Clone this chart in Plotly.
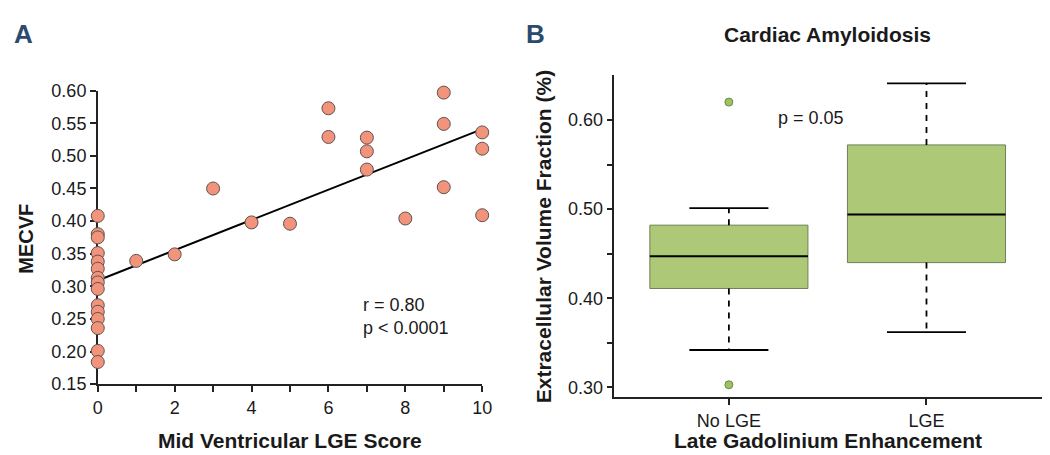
import plotly.graph_objects as go

# ---------------- Panel A data ----------------
lge_score = [0]*15 + [1, 2, 3, 4, 5, 6, 6, 7, 7, 7, 8, 9, 9, 9, 10, 10, 10]
mecvf = [0.408, 0.380, 0.375, 0.351, 0.338, 0.327, 0.313, 0.306, 0.296,
         0.271, 0.261, 0.250, 0.236, 0.201, 0.184,
         0.339, 0.349, 0.450, 0.398, 0.396, 0.573, 0.529,
         0.528, 0.507, 0.479, 0.404, 0.597, 0.549, 0.452,
         0.536, 0.511, 0.409]
fit_x = [0, 10]
fit_y = [0.309, 0.541]

# ---------------- Panel B data ----------------
groups = ["No LGE", "LGE"]
group_pos = [0, 1]
q1 = [0.411, 0.440]
median = [0.447, 0.494]
q3 = [0.482, 0.572]
lower_whisker = [0.342, 0.362]
upper_whisker = [0.501, 0.641]
outlier_group = [0, 0]
outlier_vals = [0.620, 0.303]

FONT = "Liberation Sans, Arial, Helvetica, sans-serif"
TXT = "#1a1a1a"

fig = go.Figure()

# Panel A
fig.add_trace(go.Scatter(x=fit_x, y=fit_y, mode="lines",
                         line=dict(color="black", width=2),
                         xaxis="x", yaxis="y", showlegend=False, hoverinfo="skip"))
fig.add_trace(go.Scatter(x=lge_score, y=mecvf, mode="markers",
                         marker=dict(size=13, color="#f2937c",
                                     line=dict(color="#5e5250", width=1)),
                         cliponaxis=False, xaxis="x", yaxis="y", showlegend=False))

# Panel B boxes (whiskers drawn separately as dashed lines)
fig.add_trace(go.Box(x=group_pos, q1=q1, median=median, q3=q3,
                     lowerfence=q1, upperfence=q3, width=0.8, whiskerwidth=0,
                     fillcolor="#adc977", line=dict(color="#6f7f5a", width=1),
                     boxpoints=False, xaxis="x2", yaxis="y2", showlegend=False))
for i, p in enumerate(group_pos):
    fig.add_trace(go.Scatter(x=[p - 0.4, p + 0.4], y=[median[i], median[i]], mode="lines",
                             line=dict(color="black", width=2),
                             xaxis="x2", yaxis="y2", showlegend=False, hoverinfo="skip"))
    fig.add_trace(go.Scatter(x=[p, p], y=[q3[i], upper_whisker[i]], mode="lines",
                             line=dict(color="black", width=1.8, dash="6px,6px"),
                             xaxis="x2", yaxis="y2", showlegend=False, hoverinfo="skip"))
    fig.add_trace(go.Scatter(x=[p, p], y=[q1[i], lower_whisker[i]], mode="lines",
                             line=dict(color="black", width=1.8, dash="6px,6px"),
                             xaxis="x2", yaxis="y2", showlegend=False, hoverinfo="skip"))
    for w in (upper_whisker[i], lower_whisker[i]):
        fig.add_trace(go.Scatter(x=[p - 0.2, p + 0.2], y=[w, w], mode="lines",
                                 line=dict(color="black", width=1.8),
                                 xaxis="x2", yaxis="y2", showlegend=False, hoverinfo="skip"))
fig.add_trace(go.Scatter(x=outlier_group, y=outlier_vals, mode="markers",
                         marker=dict(size=8, color="#9cc262",
                                     line=dict(color="#6d8a48", width=1)),
                         xaxis="x2", yaxis="y2", showlegend=False))

axis_common = dict(showline=True, linecolor="#222", linewidth=1.5, ticks="outside",
                   tickcolor="#222", tickwidth=1.5, ticklen=6, showgrid=False,
                   zeroline=False, tickfont=dict(family=FONT, size=18, color=TXT))

def ann(text, x, y, size, xanchor="center", yanchor="middle", angle=0, color=TXT, align="center"):
    return dict(text=text, x=x / 1050, y=1 - y / 455, xref="paper", yref="paper",
                xanchor=xanchor, yanchor=yanchor, textangle=angle, align=align, borderpad=0,
                showarrow=False, font=dict(family=FONT, size=size, color=color))

fig.update_layout(
    width=1050, height=455,
    margin=dict(l=0, r=0, t=0, b=0),
    paper_bgcolor="white", plot_bgcolor="white",
    xaxis=dict(domain=[86/1050, 476/1050], range=[0, 10], tickvals=[0, 2, 4, 6, 8, 10],
               minor=dict(dtick=1, ticks="outside", ticklen=6, tickcolor="#222", tickwidth=1.5),
               layer="below traces", anchor="y", **axis_common),
    yaxis=dict(domain=[1-383/455, 1-76/455], range=[0.15, 0.60], dtick=0.05, tickformat=".2f",
               layer="below traces", anchor="x", **axis_common),
    xaxis2=dict(domain=[610/1050, 1.0], range=[-0.58, 1.615], tickvals=group_pos, ticktext=groups,
                anchor="y2", **axis_common),
    yaxis2=dict(domain=[1-396.7/455, 1-60/455], range=[0.289, 0.650], tickvals=[0.3, 0.4, 0.5, 0.6],
                tickformat=".2f", anchor="x2",
                minor=dict(tickvals=[0.35, 0.45, 0.55], ticks="outside", ticklen=6, tickcolor="#222", tickwidth=1.5),
                **axis_common),
    annotations=[
        ann("<b>A</b>", 0, 0, 26, xanchor="left", yanchor="top", color="#2c4a6e"),
        ann("<b>B</b>", 519, 0, 26, xanchor="left", yanchor="top", color="#2c4a6e"),
        ann("<b>Cardiac Amyloidosis</b>", 826, 17, 21),
        ann("<b>Mid Ventricular LGE Score</b>", 281, 455, 21, yanchor="bottom"),
        ann("<b>Late Gadolinium Enhancement</b>", 827, 455, 21, yanchor="bottom"),
        ann("<b>MECVF</b>", 13, 231, 20, angle=-90),
        ann("<b>Extracellular Volume Fraction (%)</b>", 539, 229, 21, angle=-90),
        ann("p = 0.05", 775, 105, 18, xanchor="left"),
        ann("r = 0.80<br>p < 0.0001", 354, 312, 18, xanchor="left", align="left"),
    ],
)

fig.write_html("out.html")
